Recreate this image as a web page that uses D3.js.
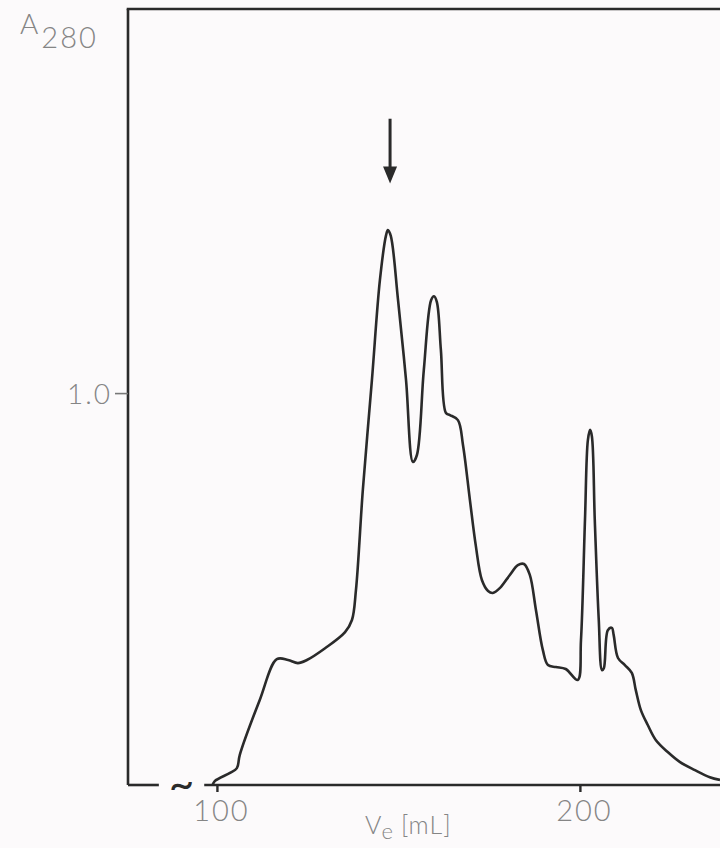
<!DOCTYPE html>
<html>
<head>
<meta charset="utf-8">
<script src="https://cdn.jsdelivr.net/npm/d3@7/dist/d3.min.js"></script>
<style>
  html, body { margin: 0; padding: 0; background: #fcfafb; }
  svg { display: block; }
  text { font-family: Lato, "DejaVu Sans", sans-serif; font-weight: 300; fill: #858585; }
</style>
</head>
<body>
<svg id="chart" width="720" height="848"></svg>
<script>
// Elution volume (mL) and absorbance at 280 nm
const ve = [98.8, 99.4, 103.6, 105.5, 106.3, 111.8, 116.5, 119.6, 122.3, 124.8, 129.8, 135.3, 137.2, 138.3,
  140.2, 142.7, 144.9, 146.6, 147.1, 147.9, 149.9, 152.1, 154.0, 155.1, 157.0, 159.0, 159.8, 160.6, 161.7,
  163.1, 164.2, 166.4, 167.8, 169.7, 171.3, 173.0, 174.7, 176.0, 178.0, 180.7, 182.9, 184.6, 186.2, 187.9,
  189.8, 191.2, 193.4, 196.1, 199.4, 200.3, 201.4, 202.2, 202.8, 203.3, 204.1, 205.2, 206.1, 206.6, 207.7,
  208.8, 209.3, 210.5, 212.4, 214.3, 215.4, 216.8, 218.7, 220.9, 224.2, 227.5, 231.7, 235.8, 238.6];
const a280 = [0.0, 0.010, 0.031, 0.043, 0.077, 0.217, 0.321, 0.319, 0.311, 0.319, 0.349, 0.390, 0.421, 0.497,
  0.753, 1.033, 1.288, 1.403, 1.416, 1.401, 1.237, 1.033, 0.824, 0.842, 1.059, 1.237, 1.247, 1.232, 1.110,
  0.949, 0.944, 0.931, 0.867, 0.727, 0.612, 0.523, 0.495, 0.490, 0.503, 0.536, 0.561, 0.564, 0.536, 0.446,
  0.344, 0.306, 0.301, 0.296, 0.268, 0.370, 0.676, 0.880, 0.906, 0.890, 0.676, 0.421, 0.293, 0.298, 0.395,
  0.401, 0.383, 0.324, 0.306, 0.286, 0.242, 0.191, 0.153, 0.115, 0.084, 0.059, 0.038, 0.020, 0.013];
const xTicks = [100, 200];
const xTickLabels = ["100", "200"];
const yTicks = [1.0];
const yTickLabels = ["1.0"];
const axisBreak = [84, 96.5];      // mL, gap in the baseline
const arrowMark = [147.7, 1.70, 1.535]; // ve, top, tip

const svg = d3.select("#chart");
const margin = { left: 128, right: 0, top: 9, bottom: 63 };
const W = 720, H = 848;

const x = d3.scaleLinear().domain([75.5, 238.6]).range([margin.left, W - margin.right]);
const y = d3.scaleLinear().domain([0, 1.98]).range([H - margin.bottom, margin.top]);

const ink = "#2a2a2a";

// frame: left and top
svg.append("line").attr("x1", x(75.5)).attr("x2", x(75.5)).attr("y1", y(1.98)).attr("y2", y(0))
  .attr("stroke", ink).attr("stroke-width", 2.6);
svg.append("line").attr("x1", x(75.5) - 1.3).attr("x2", W).attr("y1", y(1.98)).attr("y2", y(1.98))
  .attr("stroke", ink).attr("stroke-width", 2.6);

// baseline with break
svg.append("line").attr("x1", x(75.5)).attr("x2", x(axisBreak[0])).attr("y1", y(0)).attr("y2", y(0))
  .attr("stroke", ink).attr("stroke-width", 2.6);
svg.append("line").attr("x1", x(axisBreak[1])).attr("x2", W).attr("y1", y(0)).attr("y2", y(0))
  .attr("stroke", ink).attr("stroke-width", 2.6);
svg.append("text").attr("x", x((axisBreak[0] + axisBreak[1]) / 2)).attr("y", y(0) + 14)
  .attr("text-anchor", "middle").style("font-size", "44px").style("fill", ink).style("font-weight", 400)
  .text("~");

// x axis ticks
const xAxis = d3.axisBottom(x).tickValues(xTicks).tickSize(7).tickFormat((d, i) => xTickLabels[i]);
const gx = svg.append("g").attr("transform", `translate(0,${y(0)})`).call(xAxis);
gx.select(".domain").remove();
gx.selectAll(".tick line").attr("stroke", ink).attr("stroke-width", 2.4);
gx.selectAll(".tick text").attr("dy", null).attr("y", 36).attr("dx", 4)
  .style("font-size", "29px").style("letter-spacing", "2px").style("fill", "#858585")
  .attr("font-family", null);

// y axis ticks
const yAxis = d3.axisLeft(y).tickValues(yTicks).tickSize(13).tickFormat((d, i) => yTickLabels[i]);
const gy = svg.append("g").attr("transform", `translate(${x(75.5)},0)`).call(yAxis);
gy.select(".domain").remove();
gy.selectAll(".tick line").attr("stroke", "#777").attr("stroke-width", 1.6);
gy.selectAll(".tick text").attr("x", -16).attr("dy", "0.36em")
  .style("font-size", "28px").style("letter-spacing", "2px").style("fill", "#858585")
  .attr("font-family", null);

// y label A280
const yl = svg.append("text").attr("x", 20).attr("y", 34).style("font-size", "28px").style("fill", "#858585");
yl.append("tspan").text("A");
yl.append("tspan").attr("dy", 14).attr("dx", 3).style("font-size", "29px").style("letter-spacing", "2px").text("280");

// x label Ve [mL]
const xl = svg.append("text").attr("x", 365).attr("y", 834).style("font-size", "25px").style("fill", "#858585");
xl.append("tspan").text("V");
xl.append("tspan").attr("dy", 5).style("font-size", "22px").text("e");
xl.append("tspan").attr("dy", -5).attr("dx", 8).style("letter-spacing", "1px").text("[mL]");

// elution curve
const line = d3.line().x((d, i) => x(ve[i])).y((d, i) => y(a280[i])).curve(d3.curveCatmullRom.alpha(0.5));
svg.append("path").datum(a280).attr("d", line)
  .attr("fill", "none").attr("stroke", ink).attr("stroke-width", 2.6).attr("stroke-linejoin", "round");

// arrow
const ax = x(arrowMark[0]);
svg.append("line").attr("x1", ax).attr("x2", ax).attr("y1", y(arrowMark[1])).attr("y2", y(arrowMark[2]) - 12)
  .attr("stroke", ink).attr("stroke-width", 3);
const tip = y(arrowMark[2]);
svg.append("path").attr("d", `M${ax - 7},${tip - 17} L${ax + 7},${tip - 17} L${ax},${tip} Z`)
  .attr("fill", ink);
</script>
</body>
</html>
